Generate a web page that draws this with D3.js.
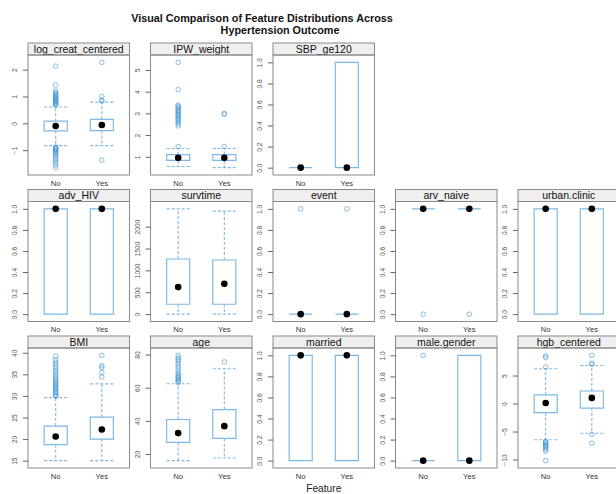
<!DOCTYPE html>
<html>
<head>
<meta charset="utf-8">
<script src="https://cdn.jsdelivr.net/npm/d3@7"></script>
<style>
  body { margin: 0; background: #fff; }
  svg { display: block; font-family: "Liberation Sans", Arial, Helvetica, sans-serif; }
</style>
</head>
<body>
<svg id="chart" width="616" height="494"></svg>
<script>
// ---- data ---------------------------------------------------------------
const groups = ["No", "Yes"];

// panel order (left-to-right, top-to-bottom)
const features = [
  "log_creat_centered", "IPW_weight", "SBP_ge120",
  "adv_HIV", "survtime", "event", "arv_naive", "urban.clinic",
  "BMI", "age", "married", "male.gender", "hgb_centered"
];

// box statistics per group: [lower whisker, Q1, median, Q3, upper whisker]
const logCreatStats = [[-0.83, -0.28, -0.10, 0.08, 0.61], [-0.83, -0.27, -0.06, 0.15, 0.79]];
const ipwStats      = [[0.55, 0.83, 0.95, 1.10, 1.38], [0.50, 0.83, 0.95, 1.10, 1.38]];
const sbpStats      = [[0, 0, 0, 0, 0], [0, 0, 0, 1, 1]];
const advHivStats   = [[0, 0, 1, 1, 1], [0, 0, 1, 1, 1]];
const survStats     = [[0, 226, 618, 1260, 2405], [0, 226, 694, 1237, 2353]];
const eventStats    = [[0, 0, 0, 0, 0], [0, 0, 0, 0, 0]];
const arvStats      = [[1, 1, 1, 1, 1], [1, 1, 1, 1, 1]];
const urbanStats    = [[0, 0, 1, 1, 1], [0, 0, 1, 1, 1]];
const bmiStats      = [[15, 18.7, 20.6, 23.0, 29.6], [15, 20.0, 22.2, 25.1, 32.8]];
const ageStats      = [[16, 27.0, 32.6, 40.8, 62.4], [17.6, 29.4, 36.8, 46.8, 71.4]];
const marriedStats  = [[0, 0, 1, 1, 1], [0, 0, 1, 1, 1]];
const maleStats     = [[0, 0, 0, 0, 0], [0, 0, 0, 1, 1]];
const hgbStats      = [[-6.46, -1.64, 0.1, 1.53, 6.2], [-5.3, -0.82, 1.0, 2.24, 6.8]];

// outlying observations per group
const logCreatOut = [
  [0.68, 0.71, 0.74, 0.77, 0.80, 0.83, 0.86, 0.89, 0.92, 0.95, 0.98, 1.02, 1.06, 1.10, 1.15, 1.20, 1.43, 2.13,
   -0.88, -0.91, -0.94, -0.97, -1.00, -1.04, -1.08, -1.12, -1.18, -1.25, -1.32, -1.38, -1.45, -1.55, -1.65],
  [0.83, 0.86, 1.00, 2.27, -1.37]
];
const ipwOut = [
  [1.47, 2.42, 2.50, 2.58, 2.65, 2.72, 2.78, 2.84, 2.90, 2.96, 3.02, 3.08, 3.14, 3.20, 3.27, 3.33, 3.38, 4.09, 5.35],
  [1.47, 2.96, 3.00]
];
const eventOut = [[1], [1]];
const arvOut   = [[0], [0]];
const bmiOut = [
  [29.9, 30.2, 30.5, 30.8, 31.1, 31.4, 31.7, 32.0, 32.3, 32.6, 32.9, 33.2, 33.6, 34.0, 34.4, 34.8,
   35.3, 35.8, 36.3, 36.8, 37.3, 37.8, 38.4, 39.2],
  [34.4, 35.4, 36.6, 37.0, 39.4]
];
const ageOut = [
  [63.0, 63.8, 64.5, 65.2, 66.0, 66.8, 67.6, 68.5, 70.0, 71.5, 73.0, 74.5, 76.0, 77.0, 78.0, 79.5],
  [75.6]
];
const maleOut = [[1], []];
const hgbOut = [
  [6.5, 8.2, 8.5, -6.7, -6.9, -7.1, -7.3, -7.5, -7.7, -7.9, -8.2, -8.5, -10.2],
  [7.0, 7.2, 8.6, -5.5, -7.1]
];
const noOut = [[], []];

// y-axis tick values
const logCreatTicks = [-1, 0, 1, 2];
const ipwTicks      = [1, 2, 3, 4, 5];
const binaryTicks   = [0, 0.2, 0.4, 0.6, 0.8, 1.0];
const survTicks     = [0, 500, 1000, 1500, 2000];
const bmiTicks      = [15, 20, 25, 30, 35, 40];
const ageTicks      = [20, 40, 60, 80];
const hgbTicks      = [-10, -5, 0, 5];

const titleLines = ["Visual Comparison of Feature Distributions Across", "Hypertension Outcome"];
const xLabel = "Feature";

// ---- panel table ----------------------------------------------------------
const fmt1 = d3.format(".1f"), fmt0 = d3.format("d");
const panels = [
  { stats: logCreatStats, out: logCreatOut, ticks: logCreatTicks, fmt: fmt0, row: 0, col: 0 },
  { stats: ipwStats,      out: ipwOut,      ticks: ipwTicks,      fmt: fmt0, row: 0, col: 1 },
  { stats: sbpStats,      out: noOut,       ticks: binaryTicks,   fmt: fmt1, row: 0, col: 2 },
  { stats: advHivStats,   out: noOut,       ticks: binaryTicks,   fmt: fmt1, row: 1, col: 0 },
  { stats: survStats,     out: noOut,       ticks: survTicks,     fmt: fmt0, row: 1, col: 1 },
  { stats: eventStats,    out: eventOut,    ticks: binaryTicks,   fmt: fmt1, row: 1, col: 2 },
  { stats: arvStats,      out: arvOut,      ticks: binaryTicks,   fmt: fmt1, row: 1, col: 3 },
  { stats: urbanStats,    out: noOut,       ticks: binaryTicks,   fmt: fmt1, row: 1, col: 4 },
  { stats: bmiStats,      out: bmiOut,      ticks: bmiTicks,      fmt: fmt0, row: 2, col: 0 },
  { stats: ageStats,      out: ageOut,      ticks: ageTicks,      fmt: fmt0, row: 2, col: 1 },
  { stats: marriedStats,  out: noOut,       ticks: binaryTicks,   fmt: fmt1, row: 2, col: 2 },
  { stats: maleStats,     out: maleOut,     ticks: binaryTicks,   fmt: fmt1, row: 2, col: 3 },
  { stats: hgbStats,      out: hgbOut,      ticks: hgbTicks,      fmt: fmt0, row: 2, col: 4 }
].map((p, i) => ({ ...p, name: features[i] }));

// ---- layout ---------------------------------------------------------------
const gridLeft = 28, colStep = 122.5, panelW = 101.5;
const gridTop = 43, rowStep = 146.5, stripH = 12, plotH = 120;
const boxColor = "#7db9e4", outColor = "#3d94d3", frameColor = "#8a8a8a";

const svg = d3.select("#chart");

// title
svg.append("text").attr("x", 262).attr("y", 21.5).attr("text-anchor", "middle")
  .attr("font-size", 10.8).attr("font-weight", "bold").attr("fill", "#111").text(titleLines[0]);
svg.append("text").attr("x", 280).attr("y", 33.5).attr("text-anchor", "middle")
  .attr("font-size", 10.8).attr("font-weight", "bold").attr("fill", "#111").text(titleLines[1]);

panels.forEach(p => {
  const left = gridLeft + p.col * colStep;
  const top = gridTop + p.row * rowStep;
  const g = svg.append("g").attr("transform", `translate(${left},${top})`);

  // scales: value extent padded by 7% on each side
  const vals = p.stats.flat().concat(p.out.flat());
  const [lo, hi] = d3.extent(vals);
  const pad = (hi - lo || 1) * 0.07;
  const y = d3.scaleLinear().domain([lo - pad, hi + pad]).range([stripH + plotH, stripH]);
  const x = d3.scalePoint().domain(groups).range([0, panelW]).padding(0.6);
  const boxW = x.step() * 0.5;

  // strip
  g.append("rect").attr("x", 0).attr("y", 0).attr("width", panelW).attr("height", stripH)
    .attr("fill", "#efefef").attr("stroke", frameColor).attr("stroke-width", 1);
  g.append("text").attr("x", panelW / 2).attr("y", stripH - 2.2).attr("text-anchor", "middle")
    .attr("font-size", 10.5).attr("fill", "#111").text(p.name);

  // panel frame
  g.append("rect").attr("x", 0).attr("y", stripH).attr("width", panelW).attr("height", plotH)
    .attr("fill", "none").attr("stroke", frameColor).attr("stroke-width", 1);

  // y axis with labels parallel to the axis
  const ax = g.append("g").call(d3.axisLeft(y).tickValues(p.ticks).tickSize(5).tickPadding(0).tickFormat(p.fmt));
  ax.select(".domain").remove();
  ax.selectAll(".tick line").attr("stroke", "#666");
  ax.selectAll(".tick text")
    .attr("x", null).attr("dy", "0.35em")
    .attr("transform", "translate(-13,0) rotate(-90)")
    .attr("text-anchor", "middle").attr("font-size", 6.7).attr("fill", "#555")
    .attr("font-family", "Liberation Sans, Arial, sans-serif");

  // x labels
  g.selectAll("text.xl").data(groups).join("text").attr("class", "xl")
    .attr("x", d => x(d)).attr("y", stripH + plotH + 10.5).attr("text-anchor", "middle")
    .attr("font-size", 7.6).attr("fill", "#333").text(d => d);

  groups.forEach((grp, gi) => {
    const [wLo, q1, med, q3, wHi] = p.stats[gi];
    const cx = x(grp);
    const gg = g.append("g");
    const dash = "3,2";

    // whiskers and caps
    [[q3, wHi], [q1, wLo]].forEach(([from, to]) => {
      if (from === to) return;
      gg.append("line").attr("x1", cx).attr("x2", cx).attr("y1", y(from)).attr("y2", y(to))
        .attr("stroke", boxColor).attr("stroke-width", 1.1).attr("stroke-dasharray", dash);
      gg.append("line").attr("x1", cx - boxW / 2).attr("x2", cx + boxW / 2).attr("y1", y(to)).attr("y2", y(to))
        .attr("stroke", boxColor).attr("stroke-width", 1.1).attr("stroke-dasharray", dash);
    });

    // box (a flat line when Q1 equals Q3)
    const x0 = cx - boxW / 2, x1 = cx + boxW / 2;
    gg.append("path")
      .attr("d", `M${x0},${y(q1)}H${x1}V${y(q3)}H${x0}Z`)
      .attr("fill", "none").attr("stroke", boxColor).attr("stroke-width", 1.2);

    // outliers
    gg.selectAll("circle.o").data(p.out[gi]).join("circle").attr("class", "o")
      .attr("cx", cx).attr("cy", d => y(d)).attr("r", 2.3)
      .attr("fill", "none").attr("stroke", outColor).attr("stroke-opacity", 0.6).attr("stroke-width", 1);

    // median
    gg.append("circle").attr("cx", cx).attr("cy", y(med)).attr("r", 3.3).attr("fill", "#000");
  });
});

// x-axis title
svg.append("text").attr("x", gridLeft + (4 * colStep + panelW) / 2).attr("y", 492)
  .attr("text-anchor", "middle").attr("font-size", 10.2).attr("fill", "#222").text(xLabel);
</script>
</body>
</html>
